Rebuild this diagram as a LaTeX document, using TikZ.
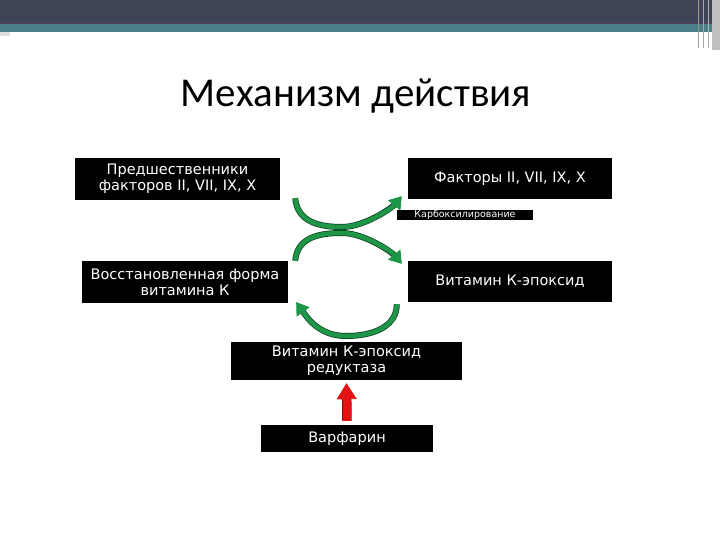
\documentclass[tikz,border=0pt]{standalone}
\usepackage{fontspec}
\setmainfont{Carlito}
\newfontfamily\boxfont{DejaVu Sans}
\usetikzlibrary{arrows.meta}
\definecolor{hdrdark}{RGB}{62,67,86}
\definecolor{hdrline}{RGB}{78,64,92}
\definecolor{hdrteal}{RGB}{74,128,136}
\definecolor{arrgreen}{RGB}{30,150,72}
\definecolor{arrdark}{RGB}{14,66,34}
\definecolor{warnred}{RGB}{228,18,18}
\definecolor{warndark}{RGB}{120,10,10}

\begin{document}
\begin{tikzpicture}[x=1pt,y=-1pt,
  blackbox/.style={fill=black,text=white,inner sep=0pt,align=center,
    font=\boxfont\fontsize{14.5}{16}\selectfont},
  greenarr/.style={line width=4.5pt,draw=arrgreen,
    -{Triangle[width=16pt,length=12pt,line width=0.8pt,fill=arrgreen]},
    preaction={draw=arrdark,line width=6pt,arrows=-,shorten >=10pt}}]
\useasboundingbox (0,0) rectangle (720,540);
\fill[white] (0,0) rectangle (720,540);
\fill[hdrdark] (0,0) rectangle (720,22);
\fill[hdrline] (0,22) rectangle (720,24);
\fill[hdrteal] (0,24) rectangle (720,32);
\fill[gray!25] (0,32) rectangle (10,36);
\fill[black!25] (712,0) rectangle (720,50);
\draw[black!40,line width=1pt] (698,0) -- (698,48);
\draw[black!35,line width=1pt] (703,0) -- (703,48);
\draw[black!30,line width=1pt] (708,0) -- (708,48);

\node[anchor=base,font=\fontsize{41}{48}\selectfont] (title) at (356,107) {Механизм действия};

\node[blackbox,minimum width=205pt,minimum height=42pt] (pred) at (177.5,179) {Предшественники\\факторов II, VII, IX, X};
\node[blackbox,minimum width=204pt,minimum height=41pt] (fact) at (510,178.5) {Факторы II, VII, IX, X};
\node[blackbox,font=\boxfont\fontsize{9.5}{10}\selectfont,text height=6.5pt,text depth=1.5pt,
  minimum width=136pt,minimum height=10pt] (carb) at (465,215) {Карбоксилирование};
\node[blackbox,minimum width=206pt,minimum height=42pt] (vitred) at (185,282) {Восстановленная форма\\витамина К};
\node[blackbox,minimum width=204pt,minimum height=41pt] (epox) at (510,281.5) {Витамин К-эпоксид};
\node[blackbox,minimum width=231pt,minimum height=38pt] (redu) at (346.5,361) {Витамин К-эпоксид\\редуктаза};
\node[blackbox,minimum width=172pt,minimum height=27pt] (warf) at (347,438.5) {Варфарин};

\coordinate (s1) at ([xshift=15pt,yshift=2pt]pred.south east);
\coordinate (m1) at (342,227);
\coordinate (e1) at ([xshift=-6pt,yshift=3pt]fact.south west);
\coordinate (s2) at ([xshift=7pt]vitred.north east);
\coordinate (m2) at (342,233);
\coordinate (e2) at ([xshift=-6pt,yshift=-3pt]epox.north west);
\coordinate (s3) at ([xshift=-11pt,yshift=-2pt]epox.south west);
\coordinate (m3) at (346,336);
\coordinate (e3) at ([xshift=8pt,yshift=1pt]vitred.south east);

\draw[greenarr] (s1) .. controls +(2,24) and +(-22,0) .. (m1) .. controls +(22,0) and +(-10,12) .. (e1);
\draw[greenarr] (s2) .. controls +(2,-24) and +(-22,0) .. (m2) .. controls +(22,0) and +(-10,-12) .. (e2);
\draw[greenarr] (s3) .. controls +(0,22) and +(28,0) .. (m3) .. controls +(-28,0) and +(10,14) .. (e3);

\draw[line width=8pt,draw=warnred,-{Triangle[width=20pt,length=16pt,line width=0.8pt,fill=warnred]},
  preaction={draw=warndark,line width=9.5pt,arrows=-,shorten >=14pt}]
  ([yshift=4pt]warf.north) -- ([yshift=-3pt]redu.south);
\end{tikzpicture}
\end{document}
